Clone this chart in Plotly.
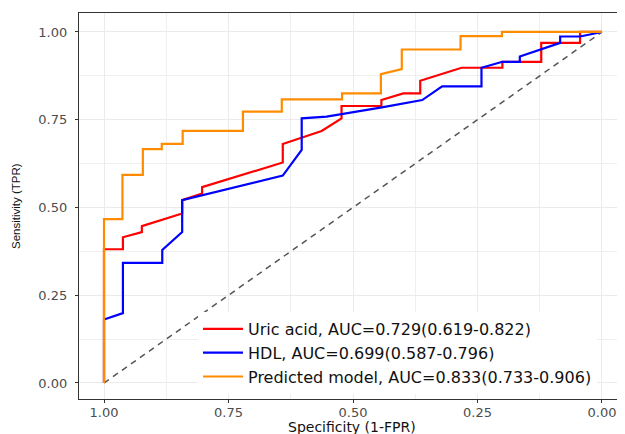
import plotly.graph_objects as go

# ROC curve data (specificity, sensitivity)
uric_spec = [1.0, 1.0, 0.962, 0.962, 0.924, 0.924, 0.843, 0.843, 0.803, 0.803, 0.641, 0.641, 0.563,
             0.523, 0.523, 0.443, 0.443, 0.399, 0.365, 0.365, 0.282, 0.200, 0.200, 0.122, 0.122,
             0.044, 0.044, 0.0]
uric_sens = [0.0, 0.381, 0.381, 0.415, 0.430, 0.447, 0.483, 0.521, 0.540, 0.558, 0.628, 0.681, 0.718,
             0.754, 0.789, 0.789, 0.806, 0.825, 0.825, 0.861, 0.898, 0.898, 0.915, 0.915, 0.969,
             0.969, 1.0, 1.0]

hdl_spec = [1.0, 1.0, 0.962, 0.962, 0.883, 0.883, 0.843, 0.843, 0.641, 0.603, 0.603, 0.553,
            0.442, 0.361, 0.321, 0.242, 0.242, 0.200, 0.165, 0.165, 0.084, 0.084, 0.044, 0.0]
hdl_sens = [0.0, 0.181, 0.199, 0.342, 0.342, 0.379, 0.430, 0.521, 0.591, 0.664, 0.754, 0.759,
            0.785, 0.806, 0.845, 0.845, 0.898, 0.915, 0.915, 0.930, 0.969, 0.987, 0.987, 1.0]

pred_spec = [1.0, 1.0, 0.963, 0.963, 0.922, 0.922, 0.884, 0.884, 0.842, 0.842, 0.721, 0.721,
             0.643, 0.643, 0.522, 0.522, 0.444, 0.444, 0.402, 0.402, 0.284, 0.284, 0.201, 0.201, 0.0]
pred_sens = [0.0, 0.467, 0.467, 0.593, 0.593, 0.666, 0.666, 0.681, 0.681, 0.718, 0.718, 0.773,
             0.773, 0.808, 0.808, 0.825, 0.825, 0.880, 0.894, 0.950, 0.950, 0.988, 0.988, 1.0, 1.0]

ref_spec = [1.0, 0.0]
ref_sens = [0.0, 1.0]

labels = ["Uric acid, AUC=0.729(0.619-0.822)",
          "HDL, AUC=0.699(0.587-0.796)",
          "Predicted model, AUC=0.833(0.733-0.906)"]
colors = ["#FF0000", "#0000FF", "#FF8C00"]

tick_vals = [0.0, 0.25, 0.5, 0.75, 1.0]
tick_text = ["0.00", "0.25", "0.50", "0.75", "1.00"]

x_title = "Specificity (1-FPR)"
y_title = "Sensitivity (TPR)"

fig = go.Figure()
fig.add_trace(go.Scatter(x=ref_spec, y=ref_sens, mode="lines", showlegend=False,
                         line=dict(color="#555555", width=1.5, dash="6px,5px"), hoverinfo="skip"))
for xs, ys, name, c in [(uric_spec, uric_sens, labels[0], colors[0]),
                        (hdl_spec, hdl_sens, labels[1], colors[1]),
                        (pred_spec, pred_sens, labels[2], colors[2])]:
    fig.add_trace(go.Scatter(x=xs, y=ys, mode="lines", name=name,
                             line=dict(color=c, width=2.2)))

axis_common = dict(
    tickvals=tick_vals, ticktext=tick_text, automargin=False,
    showgrid=True, gridcolor="#EBEBEB", gridwidth=1.2,
    zeroline=False, showline=True, linecolor="#333333", linewidth=1.2,
    ticks="outside", ticklen=3, tickcolor="#333333", tickwidth=1,
    tickfont=dict(family="DejaVu Sans", size=13, color="#4D4D4D"),
    minor=dict(dtick=0.125, tick0=0, showgrid=True, gridcolor="#EFEFEF", gridwidth=0.7, ticks=""),
)

# The page body has an 8px default margin, so the figure is sized/offset to compensate.
fig.update_layout(
    width=617, height=426,
    margin=dict(l=71, r=0, t=5, b=35),
    plot_bgcolor="white", paper_bgcolor="white",
    xaxis=dict(range=[1.0502, -0.0462], mirror=True, ticklabelstandoff=-2, **axis_common),
    yaxis=dict(range=[-0.0456, 1.054], mirror=False, ticklabelstandoff=5, **axis_common),
    legend=dict(x=0.218, y=0.013, xanchor="left", yanchor="bottom",
                bgcolor="white", borderwidth=0, itemwidth=40,
                font=dict(family="DejaVu Sans", size=16, color="#111111"),
                traceorder="normal"),
    showlegend=True,
    annotations=[
        dict(text=x_title, xref="paper", yref="paper", x=0.5, y=-0.0715,
             xanchor="center", yanchor="middle", showarrow=False,
             font=dict(family="DejaVu Sans", size=14, color="#111111")),
        dict(text=y_title, xref="paper", yref="paper", x=-0.1154, y=0.5,
             xanchor="center", yanchor="middle", showarrow=False, textangle=-90,
             font=dict(family="Liberation Sans", size=11.5, color="#111111")),
    ],
)

fig.write_html("out.html")
